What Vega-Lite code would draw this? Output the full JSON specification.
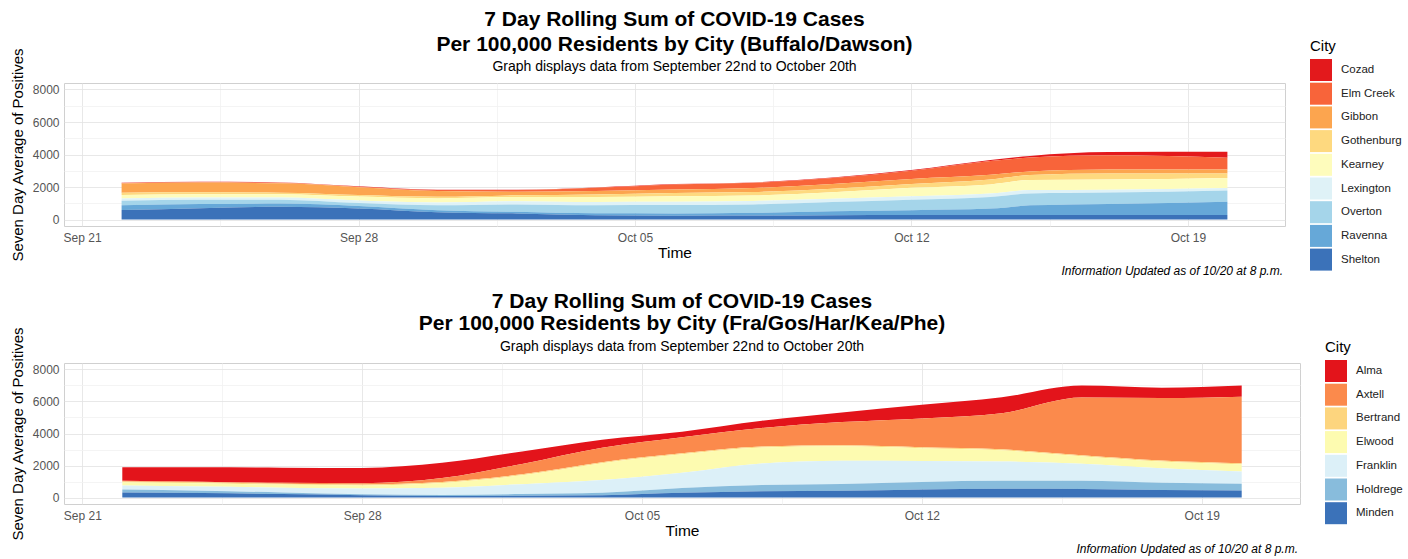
{
  "$schema": "https://vega.github.io/schema/vega-lite/v6.json",
  "padding": {"left": 9, "top": 8, "right": 0, "bottom": 0},
  "background": "white",
  "spacing": 13,
  "resolve": {"scale": {"color": "independent"}, "legend": {"color": "independent"}},
  "config": {
    "font": "Liberation Sans",
    "view": {"stroke": "#d0d0d0", "strokeWidth": 1},
    "axis": {"labelColor": "#555555", "labelFontSize": 12, "titleFontSize": 15.5, "titleFontWeight": "normal", "titleColor": "#000000", "ticks": false, "domain": false, "gridWidth": 0.8},
    "axisY": {"titleFontSize": 15},
    "legend": {"titleFontSize": 15, "titleFontWeight": "normal", "titleColor": "#000000", "titlePadding": 5, "labelFontSize": 11.5, "labelColor": "#222222", "symbolType": "square", "symbolSize": 484, "symbolStrokeWidth": 0, "symbolOpacity": 1, "rowPadding": 1.7, "labelOffset": 9},
    "title": {"color": "#000000"}
  },
  "datasets": {
    "north": [
      {"date": "2020-09-22", "city": "Cozad", "value": 20}, {"date": "2020-09-22", "city": "Elm Creek", "value": 30}, {"date": "2020-09-22", "city": "Gibbon", "value": 560}, {"date": "2020-09-22", "city": "Gothenburg", "value": 140}, {"date": "2020-09-22", "city": "Kearney", "value": 210}, {"date": "2020-09-22", "city": "Lexington", "value": 150}, {"date": "2020-09-22", "city": "Overton", "value": 270}, {"date": "2020-09-22", "city": "Ravenna", "value": 300}, {"date": "2020-09-22", "city": "Shelton", "value": 580},
      {"date": "2020-09-24", "city": "Cozad", "value": 20}, {"date": "2020-09-24", "city": "Elm Creek", "value": 30}, {"date": "2020-09-24", "city": "Gibbon", "value": 600}, {"date": "2020-09-24", "city": "Gothenburg", "value": 110}, {"date": "2020-09-24", "city": "Kearney", "value": 210}, {"date": "2020-09-24", "city": "Lexington", "value": 140}, {"date": "2020-09-24", "city": "Overton", "value": 260}, {"date": "2020-09-24", "city": "Ravenna", "value": 250}, {"date": "2020-09-24", "city": "Shelton", "value": 700},
      {"date": "2020-09-26", "city": "Cozad", "value": 20}, {"date": "2020-09-26", "city": "Elm Creek", "value": 30}, {"date": "2020-09-26", "city": "Gibbon", "value": 580}, {"date": "2020-09-26", "city": "Gothenburg", "value": 90}, {"date": "2020-09-26", "city": "Kearney", "value": 210}, {"date": "2020-09-26", "city": "Lexington", "value": 130}, {"date": "2020-09-26", "city": "Overton", "value": 240}, {"date": "2020-09-26", "city": "Ravenna", "value": 200}, {"date": "2020-09-26", "city": "Shelton", "value": 780},
      {"date": "2020-09-28", "city": "Cozad", "value": 20}, {"date": "2020-09-28", "city": "Elm Creek", "value": 30}, {"date": "2020-09-28", "city": "Gibbon", "value": 480}, {"date": "2020-09-28", "city": "Gothenburg", "value": 100}, {"date": "2020-09-28", "city": "Kearney", "value": 240}, {"date": "2020-09-28", "city": "Lexington", "value": 160}, {"date": "2020-09-28", "city": "Overton", "value": 180}, {"date": "2020-09-28", "city": "Ravenna", "value": 150}, {"date": "2020-09-28", "city": "Shelton", "value": 680},
      {"date": "2020-09-30", "city": "Cozad", "value": 20}, {"date": "2020-09-30", "city": "Elm Creek", "value": 60}, {"date": "2020-09-30", "city": "Gibbon", "value": 350}, {"date": "2020-09-30", "city": "Gothenburg", "value": 100}, {"date": "2020-09-30", "city": "Kearney", "value": 250}, {"date": "2020-09-30", "city": "Lexington", "value": 180}, {"date": "2020-09-30", "city": "Overton", "value": 300}, {"date": "2020-09-30", "city": "Ravenna", "value": 120}, {"date": "2020-09-30", "city": "Shelton", "value": 450},
      {"date": "2020-10-02", "city": "Cozad", "value": 20}, {"date": "2020-10-02", "city": "Elm Creek", "value": 100}, {"date": "2020-10-02", "city": "Gibbon", "value": 220}, {"date": "2020-10-02", "city": "Gothenburg", "value": 110}, {"date": "2020-10-02", "city": "Kearney", "value": 250}, {"date": "2020-10-02", "city": "Lexington", "value": 200}, {"date": "2020-10-02", "city": "Overton", "value": 460}, {"date": "2020-10-02", "city": "Ravenna", "value": 100}, {"date": "2020-10-02", "city": "Shelton", "value": 370},
      {"date": "2020-10-04", "city": "Cozad", "value": 20}, {"date": "2020-10-04", "city": "Elm Creek", "value": 200}, {"date": "2020-10-04", "city": "Gibbon", "value": 210}, {"date": "2020-10-04", "city": "Gothenburg", "value": 160}, {"date": "2020-10-04", "city": "Kearney", "value": 300}, {"date": "2020-10-04", "city": "Lexington", "value": 200}, {"date": "2020-10-04", "city": "Overton", "value": 500}, {"date": "2020-10-04", "city": "Ravenna", "value": 120}, {"date": "2020-10-04", "city": "Shelton", "value": 260},
      {"date": "2020-10-06", "city": "Cozad", "value": 20}, {"date": "2020-10-06", "city": "Elm Creek", "value": 320}, {"date": "2020-10-06", "city": "Gibbon", "value": 210}, {"date": "2020-10-06", "city": "Gothenburg", "value": 200}, {"date": "2020-10-06", "city": "Kearney", "value": 340}, {"date": "2020-10-06", "city": "Lexington", "value": 200}, {"date": "2020-10-06", "city": "Overton", "value": 520}, {"date": "2020-10-06", "city": "Ravenna", "value": 140}, {"date": "2020-10-06", "city": "Shelton", "value": 230},
      {"date": "2020-10-08", "city": "Cozad", "value": 20}, {"date": "2020-10-08", "city": "Elm Creek", "value": 320}, {"date": "2020-10-08", "city": "Gibbon", "value": 250}, {"date": "2020-10-08", "city": "Gothenburg", "value": 210}, {"date": "2020-10-08", "city": "Kearney", "value": 340}, {"date": "2020-10-08", "city": "Lexington", "value": 210}, {"date": "2020-10-08", "city": "Overton", "value": 520}, {"date": "2020-10-08", "city": "Ravenna", "value": 170}, {"date": "2020-10-08", "city": "Shelton", "value": 240},
      {"date": "2020-10-10", "city": "Cozad", "value": 25}, {"date": "2020-10-10", "city": "Elm Creek", "value": 380}, {"date": "2020-10-10", "city": "Gibbon", "value": 290}, {"date": "2020-10-10", "city": "Gothenburg", "value": 210}, {"date": "2020-10-10", "city": "Kearney", "value": 400}, {"date": "2020-10-10", "city": "Lexington", "value": 210}, {"date": "2020-10-10", "city": "Overton", "value": 560}, {"date": "2020-10-10", "city": "Ravenna", "value": 250}, {"date": "2020-10-10", "city": "Shelton", "value": 260},
      {"date": "2020-10-12", "city": "Cozad", "value": 40}, {"date": "2020-10-12", "city": "Elm Creek", "value": 500}, {"date": "2020-10-12", "city": "Gibbon", "value": 310}, {"date": "2020-10-12", "city": "Gothenburg", "value": 240}, {"date": "2020-10-12", "city": "Kearney", "value": 520}, {"date": "2020-10-12", "city": "Lexington", "value": 210}, {"date": "2020-10-12", "city": "Overton", "value": 650}, {"date": "2020-10-12", "city": "Ravenna", "value": 300}, {"date": "2020-10-12", "city": "Shelton", "value": 270},
      {"date": "2020-10-14", "city": "Cozad", "value": 60}, {"date": "2020-10-14", "city": "Elm Creek", "value": 850}, {"date": "2020-10-14", "city": "Gibbon", "value": 290}, {"date": "2020-10-14", "city": "Gothenburg", "value": 300}, {"date": "2020-10-14", "city": "Kearney", "value": 560}, {"date": "2020-10-14", "city": "Lexington", "value": 210}, {"date": "2020-10-14", "city": "Overton", "value": 720}, {"date": "2020-10-14", "city": "Ravenna", "value": 400}, {"date": "2020-10-14", "city": "Shelton", "value": 270},
      {"date": "2020-10-15", "city": "Cozad", "value": 100}, {"date": "2020-10-15", "city": "Elm Creek", "value": 850}, {"date": "2020-10-15", "city": "Gibbon", "value": 220}, {"date": "2020-10-15", "city": "Gothenburg", "value": 310}, {"date": "2020-10-15", "city": "Kearney", "value": 620}, {"date": "2020-10-15", "city": "Lexington", "value": 210}, {"date": "2020-10-15", "city": "Overton", "value": 730}, {"date": "2020-10-15", "city": "Ravenna", "value": 600}, {"date": "2020-10-15", "city": "Shelton", "value": 270},
      {"date": "2020-10-17", "city": "Cozad", "value": 200}, {"date": "2020-10-17", "city": "Elm Creek", "value": 875}, {"date": "2020-10-17", "city": "Gibbon", "value": 250}, {"date": "2020-10-17", "city": "Gothenburg", "value": 370}, {"date": "2020-10-17", "city": "Kearney", "value": 625}, {"date": "2020-10-17", "city": "Lexington", "value": 170}, {"date": "2020-10-17", "city": "Overton", "value": 700}, {"date": "2020-10-17", "city": "Ravenna", "value": 690}, {"date": "2020-10-17", "city": "Shelton", "value": 270},
      {"date": "2020-10-20", "city": "Cozad", "value": 370}, {"date": "2020-10-20", "city": "Elm Creek", "value": 720}, {"date": "2020-10-20", "city": "Gibbon", "value": 250}, {"date": "2020-10-20", "city": "Gothenburg", "value": 270}, {"date": "2020-10-20", "city": "Kearney", "value": 620}, {"date": "2020-10-20", "city": "Lexington", "value": 150}, {"date": "2020-10-20", "city": "Overton", "value": 690}, {"date": "2020-10-20", "city": "Ravenna", "value": 830}, {"date": "2020-10-20", "city": "Shelton", "value": 270}
    ],
    "south": [
      {"date": "2020-09-22", "city": "Alma", "value": 850}, {"date": "2020-09-22", "city": "Axtell", "value": 40}, {"date": "2020-09-22", "city": "Bertrand", "value": 60}, {"date": "2020-09-22", "city": "Elwood", "value": 200}, {"date": "2020-09-22", "city": "Franklin", "value": 250}, {"date": "2020-09-22", "city": "Holdrege", "value": 180}, {"date": "2020-09-22", "city": "Minden", "value": 320},
      {"date": "2020-09-24", "city": "Alma", "value": 900}, {"date": "2020-09-24", "city": "Axtell", "value": 40}, {"date": "2020-09-24", "city": "Bertrand", "value": 60}, {"date": "2020-09-24", "city": "Elwood", "value": 200}, {"date": "2020-09-24", "city": "Franklin", "value": 270}, {"date": "2020-09-24", "city": "Holdrege", "value": 140}, {"date": "2020-09-24", "city": "Minden", "value": 280},
      {"date": "2020-09-26", "city": "Alma", "value": 950}, {"date": "2020-09-26", "city": "Axtell", "value": 50}, {"date": "2020-09-26", "city": "Bertrand", "value": 60}, {"date": "2020-09-26", "city": "Elwood", "value": 190}, {"date": "2020-09-26", "city": "Franklin", "value": 300}, {"date": "2020-09-26", "city": "Holdrege", "value": 100}, {"date": "2020-09-26", "city": "Minden", "value": 220},
      {"date": "2020-09-28", "city": "Alma", "value": 950}, {"date": "2020-09-28", "city": "Axtell", "value": 80}, {"date": "2020-09-28", "city": "Bertrand", "value": 60}, {"date": "2020-09-28", "city": "Elwood", "value": 200}, {"date": "2020-09-28", "city": "Franklin", "value": 350}, {"date": "2020-09-28", "city": "Holdrege", "value": 60}, {"date": "2020-09-28", "city": "Minden", "value": 150},
      {"date": "2020-09-30", "city": "Alma", "value": 950}, {"date": "2020-09-30", "city": "Axtell", "value": 250}, {"date": "2020-09-30", "city": "Bertrand", "value": 60}, {"date": "2020-09-30", "city": "Elwood", "value": 300}, {"date": "2020-09-30", "city": "Franklin", "value": 450}, {"date": "2020-09-30", "city": "Holdrege", "value": 60}, {"date": "2020-09-30", "city": "Minden", "value": 100},
      {"date": "2020-10-02", "city": "Alma", "value": 780}, {"date": "2020-10-02", "city": "Axtell", "value": 650}, {"date": "2020-10-02", "city": "Bertrand", "value": 60}, {"date": "2020-10-02", "city": "Elwood", "value": 550}, {"date": "2020-10-02", "city": "Franklin", "value": 620}, {"date": "2020-10-02", "city": "Holdrege", "value": 100}, {"date": "2020-10-02", "city": "Minden", "value": 120},
      {"date": "2020-10-04", "city": "Alma", "value": 500}, {"date": "2020-10-04", "city": "Axtell", "value": 900}, {"date": "2020-10-04", "city": "Bertrand", "value": 60}, {"date": "2020-10-04", "city": "Elwood", "value": 1050}, {"date": "2020-10-04", "city": "Franklin", "value": 800}, {"date": "2020-10-04", "city": "Holdrege", "value": 150}, {"date": "2020-10-04", "city": "Minden", "value": 150},
      {"date": "2020-10-06", "city": "Alma", "value": 350}, {"date": "2020-10-06", "city": "Axtell", "value": 1000}, {"date": "2020-10-06", "city": "Bertrand", "value": 60}, {"date": "2020-10-06", "city": "Elwood", "value": 1150}, {"date": "2020-10-06", "city": "Franklin", "value": 950}, {"date": "2020-10-06", "city": "Holdrege", "value": 300}, {"date": "2020-10-06", "city": "Minden", "value": 300},
      {"date": "2020-10-08", "city": "Alma", "value": 450}, {"date": "2020-10-08", "city": "Axtell", "value": 1150}, {"date": "2020-10-08", "city": "Bertrand", "value": 60}, {"date": "2020-10-08", "city": "Elwood", "value": 1000}, {"date": "2020-10-08", "city": "Franklin", "value": 1350}, {"date": "2020-10-08", "city": "Holdrege", "value": 380}, {"date": "2020-10-08", "city": "Minden", "value": 400},
      {"date": "2020-10-10", "city": "Alma", "value": 600}, {"date": "2020-10-10", "city": "Axtell", "value": 1450}, {"date": "2020-10-10", "city": "Bertrand", "value": 60}, {"date": "2020-10-10", "city": "Elwood", "value": 900}, {"date": "2020-10-10", "city": "Franklin", "value": 1450}, {"date": "2020-10-10", "city": "Holdrege", "value": 430}, {"date": "2020-10-10", "city": "Minden", "value": 420},
      {"date": "2020-10-12", "city": "Alma", "value": 850}, {"date": "2020-10-12", "city": "Axtell", "value": 1800}, {"date": "2020-10-12", "city": "Bertrand", "value": 60}, {"date": "2020-10-12", "city": "Elwood", "value": 800}, {"date": "2020-10-12", "city": "Franklin", "value": 1300}, {"date": "2020-10-12", "city": "Holdrege", "value": 480}, {"date": "2020-10-12", "city": "Minden", "value": 500},
      {"date": "2020-10-14", "city": "Alma", "value": 1000}, {"date": "2020-10-14", "city": "Axtell", "value": 2250}, {"date": "2020-10-14", "city": "Bertrand", "value": 60}, {"date": "2020-10-14", "city": "Elwood", "value": 700}, {"date": "2020-10-14", "city": "Franklin", "value": 1200}, {"date": "2020-10-14", "city": "Holdrege", "value": 500}, {"date": "2020-10-14", "city": "Minden", "value": 550},
      {"date": "2020-10-16", "city": "Alma", "value": 750}, {"date": "2020-10-16", "city": "Axtell", "value": 3600}, {"date": "2020-10-16", "city": "Bertrand", "value": 60}, {"date": "2020-10-16", "city": "Elwood", "value": 470}, {"date": "2020-10-16", "city": "Franklin", "value": 1060}, {"date": "2020-10-16", "city": "Holdrege", "value": 520}, {"date": "2020-10-16", "city": "Minden", "value": 530},
      {"date": "2020-10-18", "city": "Alma", "value": 650}, {"date": "2020-10-18", "city": "Axtell", "value": 3900}, {"date": "2020-10-18", "city": "Bertrand", "value": 60}, {"date": "2020-10-18", "city": "Elwood", "value": 420}, {"date": "2020-10-18", "city": "Franklin", "value": 900}, {"date": "2020-10-18", "city": "Holdrege", "value": 450}, {"date": "2020-10-18", "city": "Minden", "value": 480},
      {"date": "2020-10-20", "city": "Alma", "value": 700}, {"date": "2020-10-20", "city": "Axtell", "value": 4150}, {"date": "2020-10-20", "city": "Bertrand", "value": 60}, {"date": "2020-10-20", "city": "Elwood", "value": 450}, {"date": "2020-10-20", "city": "Franklin", "value": 760}, {"date": "2020-10-20", "city": "Holdrege", "value": 420}, {"date": "2020-10-20", "city": "Minden", "value": 450}
    ]
  },
  "vconcat": [
    {
      "title": {"text": "Information Updated as of 10/20 at 8 p.m.", "orient": "bottom", "anchor": "end", "frame": "bounds", "fontSize": 12, "fontStyle": "italic", "fontWeight": "normal", "offset": -5, "dx": -119},
      "vconcat": [
        {
          "width": 1221,
          "height": 143,
          "data": {"name": "north"},
          "title": {"text": ["7 Day Rolling Sum of COVID-19 Cases", "Per 100,000 Residents by City (Buffalo/Dawson)"], "subtitle": "Graph displays data from September 22nd to October 20th", "anchor": "middle", "frame": "group", "fontSize": 21, "fontWeight": "bold", "lineHeight": 25, "subtitleFontSize": 14, "subtitleColor": "#000000", "subtitlePadding": 5, "offset": -27},
          "mark": {"type": "area", "interpolate": "monotone"},
          "encoding": {
            "x": {"field": "date", "type": "temporal", "title": "Time",
              "scale": {"type": "utc", "domain": [{"year": 2020, "month": 9, "date": 20, "hours": 13, "utc": true}, {"year": 2020, "month": 10, "date": 21, "hours": 11, "utc": true}]},
              "axis": {"format": "%b %d", "labelPadding": 6, "titlePadding": 2,
                "values": [{"year": 2020, "month": 9, "date": 21, "utc": true}, {"year": 2020, "month": 9, "date": 24, "hours": 12, "utc": true}, {"year": 2020, "month": 9, "date": 28, "utc": true}, {"year": 2020, "month": 10, "date": 1, "hours": 12, "utc": true}, {"year": 2020, "month": 10, "date": 5, "utc": true}, {"year": 2020, "month": 10, "date": 8, "hours": 12, "utc": true}, {"year": 2020, "month": 10, "date": 12, "utc": true}, {"year": 2020, "month": 10, "date": 15, "hours": 12, "utc": true}, {"year": 2020, "month": 10, "date": 19, "utc": true}],
                "labelExpr": "utchours(datum.value) === 12 ? '' : datum.label",
                "gridColor": {"condition": {"test": "utchours(datum.value) === 12", "value": "#f1f1f1"}, "value": "#e2e2e2"}}},
            "y": {"field": "value", "type": "quantitative", "stack": "zero", "title": "Seven Day Average of Positives",
              "scale": {"domain": [-400, 8400], "nice": false},
              "axis": {"values": [0, 1000, 2000, 3000, 4000, 5000, 6000, 7000, 8000], "format": "d", "labelPadding": 5, "titlePadding": 7,
                "labelExpr": "datum.value % 2000 === 0 ? datum.label : ''",
                "gridColor": {"condition": {"test": "datum.value % 2000 !== 0", "value": "#f1f1f1"}, "value": "#e2e2e2"}}},
            "color": {"field": "city", "type": "nominal",
              "scale": {"domain": ["Cozad", "Elm Creek", "Gibbon", "Gothenburg", "Kearney", "Lexington", "Overton", "Ravenna", "Shelton"], "range": ["#e3191c", "#f8643a", "#fca54f", "#fed97f", "#fefcbc", "#dff2f7", "#a5d5ea", "#66a8d8", "#3b72b9"]},
              "legend": {"title": "City", "orient": "none", "legendX": 1246, "legendY": -44}},
            "order": {"field": "city", "sort": "descending"}
          }
        }
      ]
    },
    {
      "title": {"text": "Information Updated as of 10/20 at 8 p.m.", "orient": "bottom", "anchor": "end", "frame": "bounds", "fontSize": 12, "fontStyle": "italic", "fontWeight": "normal", "offset": 3, "dx": -105},
      "vconcat": [
        {
          "width": 1236,
          "height": 141,
          "data": {"name": "south"},
          "title": {"text": ["7 Day Rolling Sum of COVID-19 Cases", "Per 100,000 Residents by City (Fra/Gos/Har/Kea/Phe)"], "subtitle": "Graph displays data from September 22nd to October 20th", "anchor": "middle", "frame": "group", "fontSize": 21, "fontWeight": "bold", "lineHeight": 22, "subtitleFontSize": 14, "subtitleColor": "#000000", "subtitlePadding": 6, "offset": -28},
          "mark": {"type": "area", "interpolate": "monotone"},
          "encoding": {
            "x": {"field": "date", "type": "temporal", "title": "Time",
              "scale": {"type": "utc", "domain": [{"year": 2020, "month": 9, "date": 20, "hours": 13, "utc": true}, {"year": 2020, "month": 10, "date": 21, "hours": 11, "utc": true}]},
              "axis": {"format": "%b %d", "labelPadding": 6, "titlePadding": 2,
                "values": [{"year": 2020, "month": 9, "date": 21, "utc": true}, {"year": 2020, "month": 9, "date": 24, "hours": 12, "utc": true}, {"year": 2020, "month": 9, "date": 28, "utc": true}, {"year": 2020, "month": 10, "date": 1, "hours": 12, "utc": true}, {"year": 2020, "month": 10, "date": 5, "utc": true}, {"year": 2020, "month": 10, "date": 8, "hours": 12, "utc": true}, {"year": 2020, "month": 10, "date": 12, "utc": true}, {"year": 2020, "month": 10, "date": 15, "hours": 12, "utc": true}, {"year": 2020, "month": 10, "date": 19, "utc": true}],
                "labelExpr": "utchours(datum.value) === 12 ? '' : datum.label",
                "gridColor": {"condition": {"test": "utchours(datum.value) === 12", "value": "#f1f1f1"}, "value": "#e2e2e2"}}},
            "y": {"field": "value", "type": "quantitative", "stack": "zero", "title": "Seven Day Average of Positives",
              "scale": {"domain": [-400, 8400], "nice": false},
              "axis": {"values": [0, 1000, 2000, 3000, 4000, 5000, 6000, 7000, 8000], "format": "d", "labelPadding": 5, "titlePadding": 7,
                "labelExpr": "datum.value % 2000 === 0 ? datum.label : ''",
                "gridColor": {"condition": {"test": "datum.value % 2000 !== 0", "value": "#f1f1f1"}, "value": "#e2e2e2"}}},
            "color": {"field": "city", "type": "nominal",
              "scale": {"domain": ["Alma", "Axtell", "Bertrand", "Elwood", "Franklin", "Holdrege", "Minden"], "range": ["#e3141b", "#fb8a4c", "#fdd57e", "#fdfbb0", "#dcf0f8", "#88bcdc", "#3b72b9"]},
              "legend": {"title": "City", "orient": "none", "legendX": 1261, "legendY": -23}},
            "order": {"field": "city", "sort": "descending"}
          }
        }
      ]
    }
  ]
}
